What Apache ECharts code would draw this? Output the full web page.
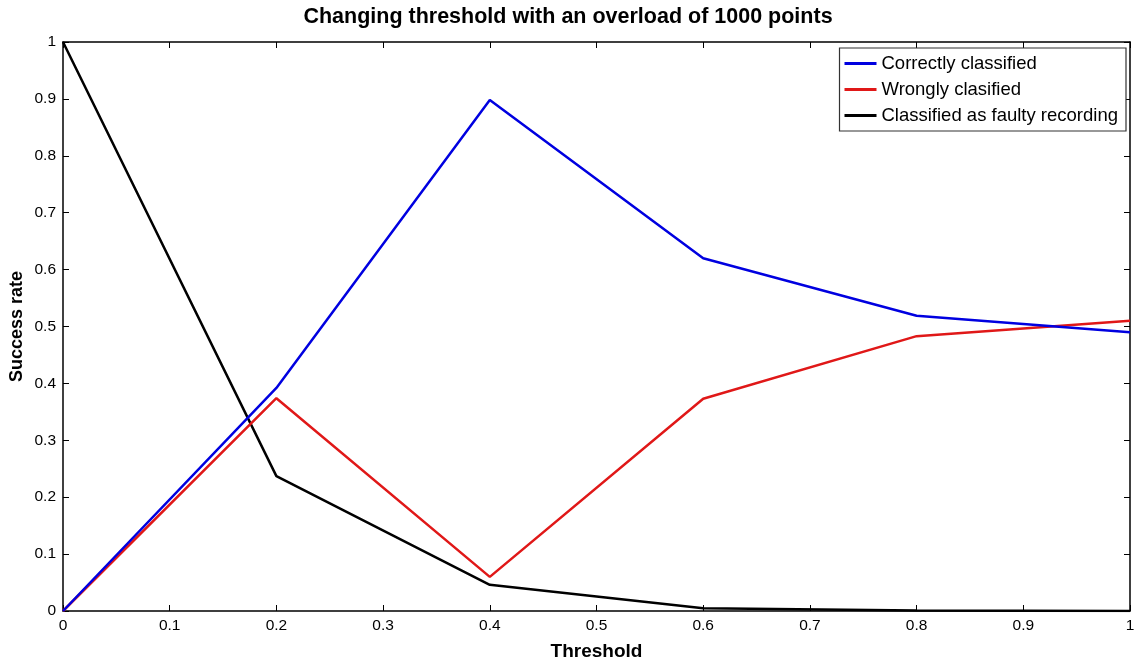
<!DOCTYPE html>
<html><head><meta charset="utf-8">
<script src="https://cdn.jsdelivr.net/npm/echarts@6/dist/echarts.min.js"></script>
<style>html,body{margin:0;padding:0;background:#fff}#c{width:1136px;height:666px}</style>
</head><body><div id="c"></div>
<script>
const thresholds = [0, 0.2, 0.4, 0.6, 0.8, 1.0];
const correctly = [0, 0.392, 0.898, 0.620, 0.519, 0.490];
const wrongly = [0, 0.374, 0.060, 0.373, 0.483, 0.510];
const faulty = [1, 0.237, 0.046, 0.005, 0.001, 0];
const seriesNames = ['Correctly classified', 'Wrongly clasified', 'Classified as faulty recording'];
const colors = ['#0000e0', '#e01818', '#000000'];

const pair = arr => thresholds.map((t, i) => [t, arr[i]]);
const font = 'Liberation Sans, Arial, sans-serif';
const tick = {show: true, inside: true, length: 6, lineStyle: {color: '#000', width: 1}};
const axisLine = {show: true, onZero: false, lineStyle: {color: '#000', width: 1.5}};

const chart = echarts.init(document.getElementById('c'));
chart.setOption({
  animation: false,
  title: {text: 'Changing threshold with an overload of 1000 points', left: 'center', top: 1,
    textStyle: {fontFamily: font, fontSize: 21.5, fontWeight: 'bold', color: '#000'}},
  grid: {left: 63, right: 6, top: 42, bottom: 55, outerBoundsMode: 'none', containLabel: false},
  legend: {
    orient: 'vertical', right: 10, top: 48, data: seriesNames,
    backgroundColor: '#fff', borderColor: '#333', borderWidth: 1.2, padding: [6, 8, 6, 5],
    itemGap: 7, itemWidth: 32, itemHeight: 3, icon: 'rect',
    textStyle: {fontFamily: font, fontSize: 18.5, color: '#000'}
  },
  xAxis: [
    {type: 'value', min: 0, max: 1, interval: 0.1, position: 'bottom',
      name: 'Threshold', nameLocation: 'middle', nameGap: 31,
      nameTextStyle: {fontFamily: font, fontSize: 19, fontWeight: 'bold', color: '#000'},
      axisLine, axisTick: tick, splitLine: {show: false},
      axisLabel: {fontFamily: font, fontSize: 15.5, color: '#000', margin: 7,
        formatter: v => String(+v.toFixed(1))}},
    {type: 'value', min: 0, max: 1, interval: 0.1, position: 'top',
      axisLine, axisTick: tick, splitLine: {show: false}, axisLabel: {show: false}}
  ],
  yAxis: [
    {type: 'value', min: 0, max: 1, interval: 0.1, position: 'left',
      name: 'Success rate', nameLocation: 'middle', nameGap: 37, nameMoveOverlap: false,
      nameTextStyle: {fontFamily: font, fontSize: 18, fontWeight: 'bold', color: '#000'},
      axisLine, axisTick: tick, splitLine: {show: false},
      axisLabel: {fontFamily: font, fontSize: 15.5, color: '#000', margin: 7,
        formatter: v => String(+v.toFixed(1))}},
    {type: 'value', min: 0, max: 1, interval: 0.1, position: 'right',
      axisLine, axisTick: tick, splitLine: {show: false}, axisLabel: {show: false}}
  ],
  series: [correctly, wrongly, faulty].map((arr, i) => ({
    name: seriesNames[i], type: 'line', data: pair(arr), showSymbol: false,
    color: colors[i], lineStyle: {width: 2.5, color: colors[i]}, z: 3 - i
  }))
});
</script></body></html>
